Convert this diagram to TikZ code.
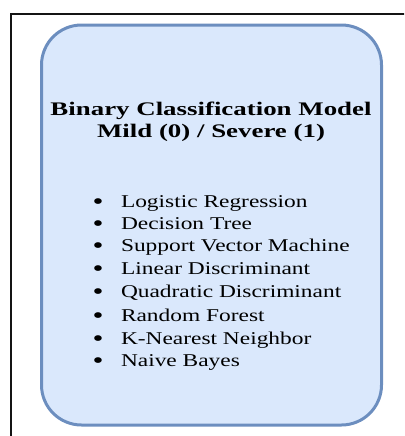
\documentclass[tikz,border=0pt]{standalone}
\usepackage{fontspec}
\setmainfont{Liberation Serif}
\newfontfamily\headfont[FakeStretch=1.40]{Liberation Serif}
\newfontfamily\itemfont[FakeStretch=1.30]{Liberation Serif}

\definecolor{boxfill}{RGB}{218,232,252}
\definecolor{boxline}{RGB}{108,142,191}

% bullet placed to the left of each model name
\newcommand{\mbul}{\llap{\raisebox{-1.6pt}{\fontsize{18}{16}\selectfont\textbullet}\hspace{13pt}}}

\tikzset{every picture/.style={line width=0.75pt}}
\tikzset{
  headtext/.style={inner sep=0pt, font=\headfont\bfseries\fontsize{14.4}{17}\selectfont},
  itemtext/.style={anchor=base west, inner sep=0pt, font=\itemfont\fontsize{13.5}{16}\selectfont},
}

\begin{document}
\begin{tikzpicture}[x=0.75pt,y=0.75pt,yscale=-1,xscale=1]
\useasboundingbox (0,0) rectangle (404,436);
\clip (0,0) rectangle (404,436);

%Shape: Frame, left and top edges
\draw [line width=1.5, color={rgb, 255:red, 20; green, 20; blue, 20 }]  (10.5,440) -- (10.5,13.5) -- (410,13.5) ;

%Shape: Rounded Rect
\draw [color=boxline, fill=boxfill, line width=2.25, rounded corners=30]  (41.5,25) rectangle (381.5,425) ;

% Text Node
\draw (211,115) node [headtext, anchor=base] (head1) {Binary Classification Model};
% Text Node
\draw (211,137.5) node [headtext, anchor=base] (head2) {Mild (0) / Severe (1)};

% Text Node
\draw (120.5,207) node [itemtext] (m1) {\mbul Logistic Regression};
% Text Node
\draw (120.5,229) node [itemtext] (m2) {\mbul Decision Tree};
% Text Node
\draw (120.5,251.5) node [itemtext] (m3) {\mbul Support Vector Machine};
% Text Node
\draw (120.5,274) node [itemtext] (m4) {\mbul Linear Discriminant};
% Text Node
\draw (120.5,297.5) node [itemtext] (m5) {\mbul Quadratic Discriminant};
% Text Node
\draw (120.5,321) node [itemtext] (m6) {\mbul Random Forest};
% Text Node
\draw (120.5,344) node [itemtext] (m7) {\mbul K-Nearest Neighbor};
% Text Node
\draw (120.5,366) node [itemtext] (m8) {\mbul Naive Bayes};

\end{tikzpicture}
\end{document}
